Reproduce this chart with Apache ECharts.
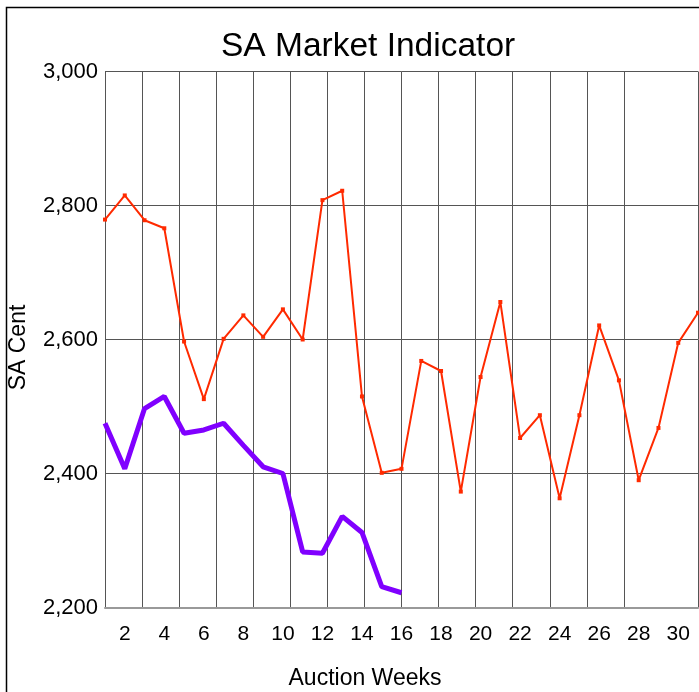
<!DOCTYPE html>
<html>
<head>
<meta charset="utf-8">
<script src="https://cdn.jsdelivr.net/npm/echarts@6/dist/echarts.min.js"></script>
<style>
html,body{margin:0;padding:0;background:#fff;}
#chart{width:699px;height:692px;}
</style>
</head>
<body>
<div id="chart"></div>
<script>
const weeks = [1,2,3,4,5,6,7,8,9,10,11,12,13,14,15,16,17,18,19,20,21,22,23,24,25,26,27,28,29,30,31];
const redSeries = [2779,2815,2778,2766,2597,2511,2601,2636,2604,2645,2600,2808,2822,2515,2401,2407,2568,2553,2373,2544,2656,2453,2487,2363,2487,2621,2539,2390,2468,2595,2640];
const purpleSeries = [2475,2407,2497,2515,2460,2465,2475,2442,2410,2400,2283,2281,2336,2312,2231,2222];
const gridDivisions = ['0','1','2','3','4','5','6','7','8','9','10','11','12','13','14','15','16'];
const yTicks = {min:2200, max:3000, interval:200};

const FONT = 'Liberation Sans, Arial, sans-serif';
const chart = echarts.init(document.getElementById('chart'));
chart.setOption({
  animation:false,
  backgroundColor:'#fff',
  title:{
    text:'SA Market Indicator',
    left:216, top:25,
    textStyle:{fontFamily:FONT,fontSize:33.5,fontWeight:'normal',color:'#000'}
  },
  graphic:[{
    type:'rect', silent:true, z:-1,
    shape:{x:6.5,y:7.5,width:800,height:800},
    style:{fill:'none',stroke:'#000',lineWidth:1.5}
  }],
  grid:{left:105,top:71.5,right:1,bottom:84.5,containLabel:false,outerBoundsMode:'none'},
  xAxis:[{
    type:'category', data:weeks, boundaryGap:false,
    name:'Auction Weeks', nameLocation:'middle', nameGap:60,
    nameTextStyle:{fontFamily:FONT,fontSize:23,color:'#000',padding:[0,73,0,0]},
    axisLine:{show:true,lineStyle:{color:'#999',width:2}},
    axisTick:{show:false},
    splitLine:{show:false},
    axisLabel:{
      interval:function(i,v){return Number(v)%2===0;},
      fontFamily:FONT,fontSize:21,color:'#000',margin:16
    }
  },{
    type:'category', data:gridDivisions, boundaryGap:false, position:'bottom',
    axisLine:{show:false}, axisTick:{show:false}, axisLabel:{show:false},
    splitLine:{show:true, interval:function(i){return i!==15 && i!==0;}, lineStyle:{color:'#555',width:1}}
  }],
  yAxis:{
    type:'value', min:yTicks.min, max:yTicks.max, interval:yTicks.interval,
    name:'SA Cent', nameLocation:'middle', nameGap:75, nameRotate:90,
    nameTextStyle:{fontFamily:FONT,fontSize:23,color:'#000',padding:[0,16,0,0]},
    axisLine:{show:true,lineStyle:{color:'#555',width:1}},
    axisTick:{show:false},
    splitLine:{show:true,lineStyle:{color:'#555',width:1}},
    axisLabel:{
      fontFamily:FONT,fontSize:22,color:'#000',margin:7,
      formatter:function(v){return v.toLocaleString('en-US');}
    }
  },
  series:[{
    type:'line', data:redSeries, xAxisIndex:0,
    symbol:'rect', symbolSize:4, showSymbol:true,
    lineStyle:{color:'#ff2a00',width:2},
    itemStyle:{color:'#ff2a00'},
    z:3
  },{
    type:'line', data:purpleSeries, xAxisIndex:0,
    symbol:'none',
    lineStyle:{color:'#8000ff',width:5},
    z:4
  }]
});
</script>
</body>
</html>
